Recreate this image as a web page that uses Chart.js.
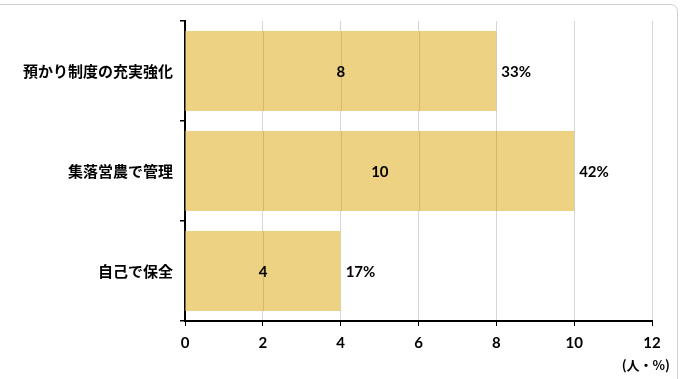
<!DOCTYPE html>
<html>
<head>
<meta charset="utf-8">
<script src="https://cdn.jsdelivr.net/npm/chart.js@4.4.1/dist/chart.umd.min.js"></script>
<style>
  html, body { margin: 0; padding: 0; background: #fff; overflow: hidden; }
  #wrap { position: absolute; left: 0; top: 0; width: 687px; height: 379px; }
</style>
</head>
<body>
<div id="wrap"><canvas id="c" width="687" height="379"></canvas></div>
<script>
const categories = ['預かり制度の充実強化', '集落営農で管理', '自己で保全'];
const counts = [8, 10, 4];
const percents = ['33%', '42%', '17%'];
const xTicks = [0, 2, 4, 6, 8, 10, 12];
const unitLabel = '(人・%)';

const numFont = 'Lato, "Liberation Sans", sans-serif';
const cjkFont = '"Noto Sans CJK JP", sans-serif';

const framePlugin = {
  id: 'frame',
  beforeDraw(chart) {
    const ctx = chart.ctx;
    ctx.save();
    ctx.fillStyle = '#fff';
    ctx.fillRect(0, 0, chart.width, chart.height);
    ctx.strokeStyle = '#cfcfcf';
    ctx.lineWidth = 1;
    ctx.beginPath();
    ctx.moveTo(-2, 4.5);
    ctx.lineTo(670, 4.5);
    ctx.quadraticCurveTo(677.5, 4.5, 677.5, 12);
    ctx.lineTo(677.5, 380);
    ctx.stroke();
    ctx.restore();
  }
};

const labelPlugin = {
  id: 'labels',
  afterDatasetsDraw(chart) {
    const ctx = chart.ctx;
    const meta = chart.getDatasetMeta(0);
    const xs = chart.scales.x;
    ctx.save();
    // faint grid lines visible through the bars
    meta.data.forEach((bar) => {
      const p = bar.getProps(['x', 'y', 'base', 'height'], true);
      ctx.save();
      ctx.beginPath();
      ctx.rect(p.base, p.y - p.height / 2, p.x - p.base, p.height);
      ctx.clip();
      ctx.strokeStyle = 'rgba(150,120,40,0.28)';
      ctx.lineWidth = 1;
      xTicks.forEach(v => {
        if (v === 0) return;
        const px = Math.round(xs.getPixelForValue(v)) + 0.5;
        ctx.beginPath();
        ctx.moveTo(px, p.y - p.height / 2);
        ctx.lineTo(px, p.y + p.height / 2);
        ctx.stroke();
      });
      ctx.restore();
    });
    ctx.fillStyle = '#000';
    ctx.font = 'bold 15px ' + numFont;
    ctx.textBaseline = 'middle';
    meta.data.forEach((bar, i) => {
      const p = bar.getProps(['x', 'y', 'base'], true);
      ctx.textAlign = 'center';
      ctx.fillText(String(counts[i]), (p.x + p.base) / 2, p.y + 1);
      ctx.textAlign = 'left';
      ctx.fillText(percents[i], p.x + 5, p.y + 1);
    });
    ctx.font = 'bold 13px ' + cjkFont;
    ctx.textAlign = 'right';
    ctx.fillText(unitLabel, xs.right + 18, 365);
    ctx.restore();
  }
};

new Chart(document.getElementById('c'), {
  type: 'bar',
  data: {
    labels: categories,
    datasets: [{
      data: counts,
      backgroundColor: '#EDD283',
      borderWidth: 0,
      barPercentage: 0.8,
      categoryPercentage: 1.0
    }]
  },
  options: {
    indexAxis: 'y',
    responsive: false,
    animation: false,
    events: [],
    layout: { padding: { top: 21, right: 35, left: 0, bottom: 0 } },
    plugins: { legend: { display: false }, tooltip: { enabled: false } },
    scales: {
      x: {
        min: 0, max: 12,
        afterBuildTicks(scale) { scale.ticks = xTicks.map(v => ({ value: v })); },
        afterFit(scale) { scale.height = 58; },
        grid: { color: '#d6d6d6', lineWidth: 1, tickColor: '#000', tickLength: 5 },
        border: { color: '#000', width: 2 },
        ticks: { color: '#000', padding: 8, font: { family: numFont, size: 15, weight: 'bold' } }
      },
      y: {
        afterFit(scale) { scale.width = 185; },
        grid: { drawOnChartArea: false, tickColor: '#000', tickLength: 5, offset: true, lineWidth: 1.5 },
        border: { color: '#000', width: 2 },
        ticks: { color: '#000', padding: 7, font: { family: cjkFont, size: 15, weight: 'bold' } }
      }
    }
  },
  plugins: [framePlugin, labelPlugin]
});
</script>
</body>
</html>
